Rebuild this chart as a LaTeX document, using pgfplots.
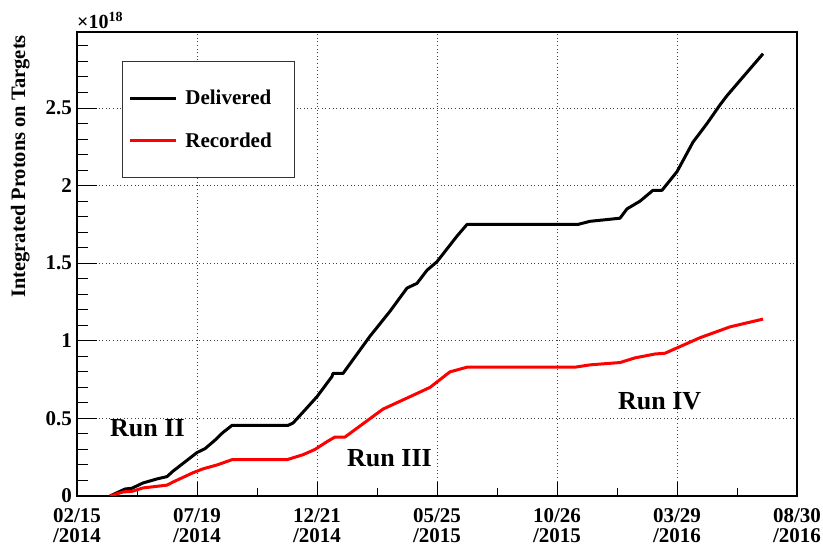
\documentclass[border=0pt]{standalone}
\usepackage{fontspec}
\setmainfont{Liberation Serif}
\usepackage{pgfplots}
\pgfplotsset{compat=1.18}
\begin{document}
\begin{tikzpicture}[x=1bp,y=1bp]
\begin{axis}[
  at={(77bp,53bp)}, anchor=south west,
  width=720bp, height=464bp, scale only axis,
  xmin=0, xmax=6, ymin=0, ymax=2.99,
  xtick={0,1,2,3,4,5,6},
  xticklabels={{02/15\\/2014},{07/19\\/2014},{12/21\\/2014},{05/25\\/2015},{10/26\\/2015},{03/29\\/2016},{08/30\\/2016}},
  minor xtick={0.5,1.5,2.5,3.5,4.5,5.5},
  ytick={0,0.5,1,1.5,2,2.5},
  minor ytick={0.1,0.2,0.3,0.4,0.6,0.7,0.8,0.9,1.1,1.2,1.3,1.4,1.6,1.7,1.8,1.9,2.1,2.2,2.3,2.4,2.6,2.7,2.8,2.9},
  scaled y ticks=false,
  tick align=inside,
  tick pos=left,
  xtick style={black, line width=1bp, /pgfplots/major tick length=14bp, /pgfplots/minor tick length=8bp},
  ytick style={black, line width=1bp, /pgfplots/major tick length=20bp, /pgfplots/minor tick length=11bp},
  axis line style={line width=1.4bp},
  xmajorgrids, ymajorgrids,
  grid style={line width=1bp, dash pattern=on 1bp off 2.6bp, black!75},
  /pgf/number format/assume math mode=true,
  xticklabel style={font=\fontsize{21bp}{20bp}\selectfont\bfseries, align=center, inner sep=0pt, yshift=-12bp},
  yticklabel style={font=\fontsize{21bp}{22bp}\selectfont\bfseries, inner sep=0pt, xshift=-5bp},
  legend style={at={(0.0625,0.9375)}, anchor=north west, draw=black!80, line width=0.8bp, fill=white,
    inner xsep=6.5bp, inner ysep=26bp, row sep=20bp,
    font=\fontsize{21bp}{22bp}\selectfont\bfseries,
    nodes={inner xsep=7.5bp, inner ysep=3bp}},
  legend cell align=left,
  legend image code/.code={\draw[#1, line width=3bp] (0bp,0bp) -- (46bp,0bp);},
]
\addplot[black, line width=3bp, line join=round] coordinates {
(0.275,0) (0.40,0.045) (0.458,0.05) (0.55,0.084) (0.667,0.11) (0.75,0.125) (0.80,0.16)
(0.917,0.23) (1.0,0.28) (1.067,0.305) (1.15,0.36) (1.217,0.41) (1.292,0.455) (1.758,0.455)
(1.80,0.47) (1.883,0.54) (2.0,0.64) (2.125,0.77) (2.133,0.79) (2.217,0.79) (2.442,1.03)
(2.608,1.19) (2.75,1.34) (2.833,1.37) (2.917,1.455) (3.0,1.51) (3.167,1.675) (3.25,1.75)
(4.175,1.75) (4.275,1.77) (4.525,1.79) (4.583,1.85) (4.692,1.90) (4.80,1.97) (4.875,1.97)
(5.0,2.09) (5.133,2.28) (5.25,2.40) (5.358,2.52) (5.417,2.58) (5.55,2.70) (5.717,2.85)
};
\addlegendentry{Delivered\rule{9bp}{0pt}}
\addplot[red, line width=3bp, line join=round] coordinates {
(0.275,0) (0.383,0.026) (0.458,0.03) (0.55,0.052) (0.75,0.07) (0.80,0.09) (0.967,0.15)
(1.05,0.175) (1.167,0.20) (1.292,0.234) (1.75,0.234) (1.883,0.266) (1.983,0.30) (2.083,0.35)
(2.15,0.38) (2.233,0.38) (2.55,0.56) (2.775,0.64) (2.942,0.70) (3.108,0.80) (3.25,0.83)
(4.15,0.83) (4.275,0.845) (4.525,0.86) (4.65,0.89) (4.817,0.915) (4.9,0.92) (5.192,1.02)
(5.442,1.09) (5.717,1.14)
};
\addlegendentry{Recorded\rule{9bp}{0pt}}
\node[anchor=base west, inner sep=0pt, font=\fontsize{26bp}{26bp}\selectfont\bfseries] at (axis cs:0.275,0.383) {Run II};
\node[anchor=base west, inner sep=0pt, font=\fontsize{26bp}{26bp}\selectfont\bfseries] at (axis cs:2.25,0.188) {Run III};
\node[anchor=base west, inner sep=0pt, font=\fontsize{26bp}{26bp}\selectfont\bfseries] at (axis cs:4.508,0.558) {Run IV};
\end{axis}
\node[anchor=base west, inner sep=0pt, font=\fontsize{20bp}{20bp}\selectfont\bfseries] at (77,520) {×10\raisebox{7bp}{\fontsize{14bp}{14bp}\selectfont 18}};
\node[rotate=90, anchor=base east, inner sep=0pt, font=\fontsize{20.5bp}{22bp}\selectfont\bfseries] at (25,514) {Integrated Protons on Targets};
\pgfresetboundingbox
\path[use as bounding box] (0,0) rectangle (823,549);
\end{tikzpicture}
\end{document}
